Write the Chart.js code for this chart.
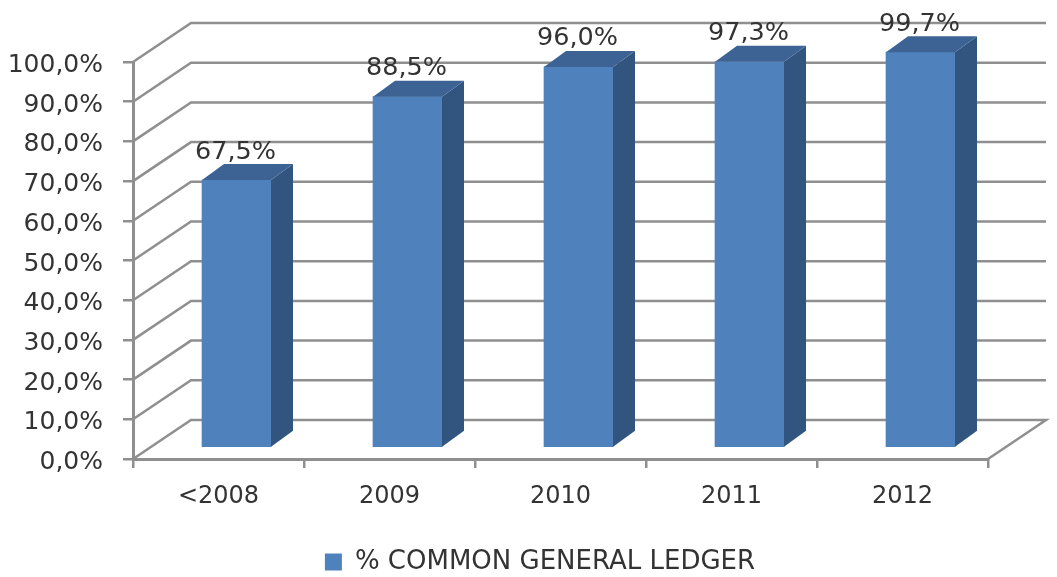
<!DOCTYPE html>
<html lang="en">
<head>
  <meta charset="UTF-8">
  <title>% Common General Ledger</title>
  <style>
    body { margin: 0; background: #fff; }
    canvas { display: block; }
  </style>
</head>
<body>
  <canvas id="chart" width="1057" height="577"></canvas>

  <script src="https://cdn.jsdelivr.net/npm/chart.js"></script>
  <script>
    const categories = ['<2008', '2009', '2010', '2011', '2012'];
    const commonLedger = [67.5, 88.5, 96.0, 97.3, 99.7];
    const seriesName = '% COMMON GENERAL LEDGER';

    const fontFamily = "'DejaVu Sans', sans-serif";
    const textColor = '#333';
    const lineColor = '#8f8f8f';

    // depth of the fake 3D box, and of the bars inside it
    const wallDepth = { x: 58, y: -39 };
    const barOffset = { x: 18, y: -11 };
    const barDepth = { x: 22, y: -16 };

    const percent = v => v.toFixed(1).replace('.', ',') + '%';

    function polygon(ctx, points, color) {
      ctx.beginPath();
      points.forEach((p, i) => i ? ctx.lineTo(p[0], p[1]) : ctx.moveTo(p[0], p[1]));
      ctx.closePath();
      ctx.fillStyle = color;
      ctx.fill();
    }

    const box3d = {
      id: 'box3d',
      // the legend sits lower and further right than Chart.js puts it
      afterLayout(chart) {
        chart.legend.left += 46;
        chart.legend.right += 46;
        chart.legend.top += 8;
        chart.legend.bottom += 8;
      },
      // walls and floor behind the bars
      beforeDatasetsDraw(chart) {
        const { ctx, chartArea: area, scales: { y } } = chart;
        ctx.save();
        ctx.strokeStyle = lineColor;
        ctx.lineWidth = 2.5;
        y.ticks.forEach(t => {
          const py = y.getPixelForValue(t.value);
          ctx.beginPath();
          ctx.moveTo(area.left, py);
          ctx.lineTo(area.left + wallDepth.x, py + wallDepth.y);
          ctx.lineTo(area.right + wallDepth.x, py + wallDepth.y);
          if (t.value === 0) ctx.lineTo(area.right, py);
          ctx.stroke();
        });
        ctx.restore();
      },
      beforeDatasetDraw(chart) {
        chart.ctx.save();
        chart.ctx.translate(barOffset.x, barOffset.y);
      },
      // side and top faces, then the value labels
      afterDatasetDraw(chart, args) {
        const ctx = chart.ctx;
        const dx = barDepth.x, dy = barDepth.y;
        args.meta.data.forEach((bar, i) => {
          const p = bar.getProps(['x', 'y', 'base', 'width'], true);
          const l = p.x - p.width / 2, r = p.x + p.width / 2;
          polygon(ctx, [[r, p.y], [r + dx, p.y + dy], [r + dx, p.base + dy], [r, p.base]], '#325580');
          polygon(ctx, [[l, p.y], [l + dx, p.y + dy], [r + dx, p.y + dy], [r, p.y]], '#3c6394');
          ctx.fillStyle = textColor;
          ctx.font = '25.5px ' + fontFamily;
          ctx.textAlign = 'center';
          ctx.textBaseline = 'alphabetic';
          ctx.fillText(percent(commonLedger[i]), p.x - 1, p.y - 21.5);
        });
        ctx.restore();
      }
    };

    new Chart(document.getElementById('chart'), {
      type: 'bar',
      plugins: [box3d],
      data: {
        labels: categories,
        datasets: [{
          label: seriesName,
          data: commonLedger,
          backgroundColor: '#4f81bd',
          borderWidth: 0,
          barThickness: 69,
          clip: false
        }]
      },
      options: {
        responsive: false,
        animation: false,
        layout: { padding: { top: 62, right: 69, left: 0, bottom: 0 } },
        plugins: {
          tooltip: { enabled: false },
          legend: {
            position: 'bottom',
            labels: {
              color: textColor,
              font: { family: fontFamily, size: 26 },
              boxWidth: 17,
              boxHeight: 17,
              padding: 0
            }
          }
        },
        scales: {
          x: {
            afterFit: s => { s.height = 576 - 458 - s.chart.legend.height; },
            grid: { drawOnChartArea: false, color: lineColor, tickLength: 9, lineWidth: 2.5 },
            border: { color: lineColor, width: 3 },
            ticks: { color: textColor, font: { family: fontFamily, size: 24 }, padding: 14, maxRotation: 0 }
          },
          y: {
            min: 0,
            max: 100,
            afterFit: s => { s.width = 133; },
            grid: { drawOnChartArea: false, color: lineColor, tickLength: 10, lineWidth: 2.5 },
            border: { color: lineColor, width: 3 },
            ticks: {
              stepSize: 10,
              color: textColor,
              // empty first line + small line height pushes the text a few px down
              font: { family: fontFamily, size: 25, lineHeight: '7px' },
              padding: 20,
              callback: v => ['', percent(v)]
            }
          }
        }
      }
    });
  </script>
</body>
</html>
